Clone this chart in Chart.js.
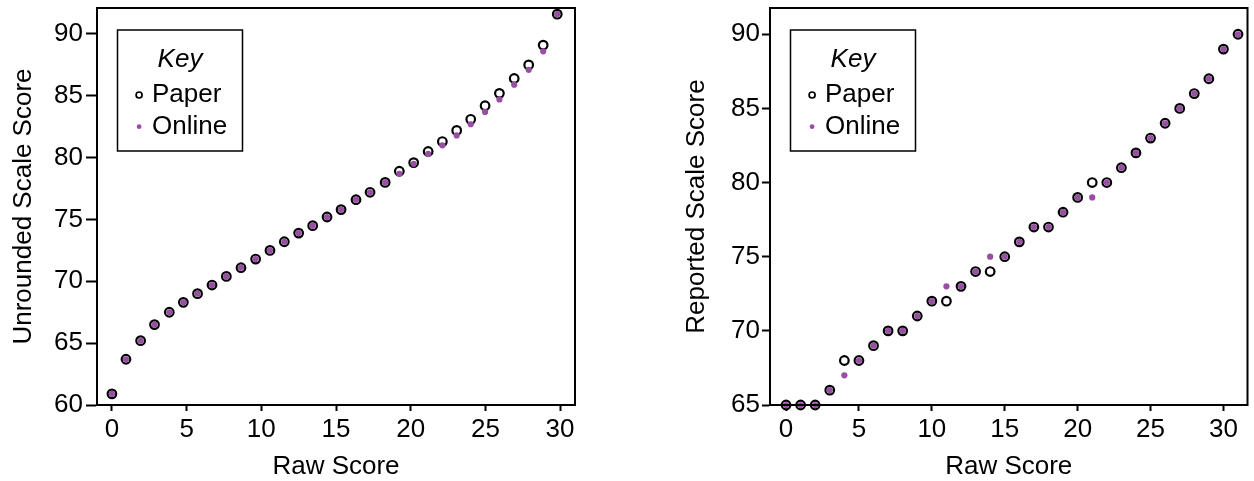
<!DOCTYPE html>
<html>
<head>
<meta charset="utf-8">
<script src="https://cdn.jsdelivr.net/npm/chart.js@4.4.1/dist/chart.umd.min.js"></script>
<style>
  html, body { margin: 0; padding: 0; background: #fff; }
  #wrap { display: flex; width: 1254px; height: 481px; }
  canvas { display: block; }
</style>
</head>
<body>
<div id="wrap">
  <canvas id="unroundedChart" width="627" height="481"></canvas>
  <canvas id="reportedChart" width="627" height="481"></canvas>
</div>
<script>
// Raw scores 0..31 (right panel), left panel points sit slightly left of the integer ticks
const rawScores = [0, 1, 2, 3, 4, 5, 6, 7, 8, 9, 10, 11, 12, 13, 14, 15,
  16, 17, 18, 19, 20, 21, 22, 23, 24, 25, 26, 27, 28, 29, 30, 31];
const unroundedX = [0, 0.94, 1.92, 2.85, 3.84, 4.78, 5.73, 6.7, 7.66, 8.64, 9.62, 10.58,
  11.54, 12.5, 13.44, 14.4, 15.34, 16.34, 17.28, 18.29, 19.24, 20.2, 21.17, 22.12,
  23.08, 24.02, 24.98, 25.94, 26.93, 27.9, 28.87, 29.81];

const unroundedPaper = [60.9, 63.7, 65.2, 66.5, 67.5, 68.3, 69.0, 69.7, 70.4, 71.1, 71.8, 72.5,
  73.2, 73.9, 74.5, 75.2, 75.8, 76.6, 77.2, 78.0, 78.9, 79.6, 80.5, 81.3,
  82.2, 83.1, 84.2, 85.2, 86.4, 87.5, 89.1, 91.6];
const unroundedOnline = [60.9, 63.7, 65.2, 66.5, 67.5, 68.3, 69.0, 69.7, 70.4, 71.1, 71.8, 72.5,
  73.2, 73.9, 74.5, 75.2, 75.8, 76.6, 77.2, 78.0, 78.7, 79.5, 80.3, 81.0,
  81.8, 82.7, 83.7, 84.7, 85.9, 87.1, 88.6, 91.6];

const reportedPaper = [65, 65, 65, 66, 68, 68, 69, 70, 70, 71, 72, 72, 73, 74, 74, 75,
  76, 77, 77, 78, 79, 80, 80, 81, 82, 83, 84, 85, 86, 87, 89, 90];
const reportedOnline = [65, 65, 65, 66, 67, 68, 69, 70, 70, 71, 72, 73, 73, 74, 75, 75,
  76, 77, 77, 78, 79, 79, 80, 81, 82, 83, 84, 85, 86, 87, 89, 90];

const seriesNames = ['Paper', 'Online'];
const xTicks = [0, 5, 10, 15, 20, 25, 30];
const unroundedTicks = [60, 65, 70, 75, 80, 85, 90];
const reportedTicks = [65, 70, 75, 80, 85, 90];

const PURPLE = '#984EA3';
const FONT = '"Liberation Sans", Arial, Helvetica, sans-serif';
const FSIZE = 26;
Chart.defaults.font.family = FONT;
Chart.defaults.color = '#000';

function toPoints(xs, ys) {
  return xs.map((x, i) => ({ x: x, y: ys[i] }));
}

// box round the plot area (axes borders only give left + bottom)
const frame = {
  id: 'frame',
  afterDatasetsDraw(chart) {
    const { ctx, chartArea: a } = chart;
    ctx.save();
    ctx.strokeStyle = '#000';
    ctx.lineWidth = 2;
    ctx.strokeRect(a.left, a.top, a.right - a.left, a.bottom - a.top);
    ctx.restore();
  }
};

// the "Key" box in the upper left corner
const keyBox = {
  id: 'keyBox',
  afterDraw(chart) {
    const { ctx, chartArea } = chart;
    const x = chartArea.left + 20.5, y = 30, w = 125, h = 121;
    const sets = chart.data.datasets;
    ctx.save();
    ctx.fillStyle = '#fff';
    ctx.fillRect(x, y, w, h);
    ctx.strokeStyle = '#000';
    ctx.lineWidth = 1.5;
    ctx.strokeRect(x, y, w, h);

    ctx.fillStyle = '#000';
    ctx.textBaseline = 'alphabetic';
    ctx.textAlign = 'center';
    ctx.font = 'italic ' + FSIZE + 'px ' + FONT;
    ctx.fillText('Key', x + w / 2, 66.5);

    ctx.textAlign = 'left';
    ctx.font = FSIZE + 'px ' + FONT;
    const rows = [{ cy: 95, base: 102 }, { cy: 126.7, base: 134 }];
    sets.forEach((ds, i) => {
      const r = rows[i];
      ctx.beginPath();
      if (ds.pointBorderWidth > 0) {
        ctx.arc(x + 21.6, r.cy, 3, 0, Math.PI * 2);
        ctx.fillStyle = ds.pointBackgroundColor;
        ctx.fill();
        ctx.lineWidth = 1.7;
        ctx.strokeStyle = ds.pointBorderColor;
        ctx.stroke();
      } else {
        ctx.arc(x + 21.6, r.cy, 2.4, 0, Math.PI * 2);
        ctx.fillStyle = ds.pointBackgroundColor;
        ctx.fill();
      }
      ctx.fillStyle = '#000';
      ctx.fillText(ds.label, x + 34.5, r.base);
    });
    ctx.restore();
  }
};

function makeChart(id, xs, paper, online, yTicks, opts) {
  const ctx = document.getElementById(id).getContext('2d');
  return new Chart(ctx, {
    type: 'scatter',
    data: {
      datasets: [
        {
          label: seriesNames[0],
          data: toPoints(xs, paper),
          pointRadius: 4.3,
          pointBorderWidth: 2.2,
          pointBorderColor: '#000',
          pointBackgroundColor: '#fff',
          order: 2,
          clip: false
        },
        {
          label: seriesNames[1],
          data: toPoints(xs, online),
          pointRadius: 3.1,
          pointBorderWidth: 0,
          pointBorderColor: PURPLE,
          pointBackgroundColor: PURPLE,
          order: 1,
          clip: false
        }
      ]
    },
    options: {
      responsive: false,
      animation: false,
      events: [],
      layout: { padding: opts.padding },
      plugins: {
        legend: { display: false },
        tooltip: { enabled: false }
      },
      scales: {
        x: {
          type: 'linear',
          min: opts.xMin,
          max: opts.xMax,
          afterBuildTicks: s => { s.ticks = xTicks.map(v => ({ value: v })); },
          afterFit: s => { s.height = 76; s.paddingLeft = 0; s.paddingRight = 0; },
          grid: {
            drawOnChartArea: false,
            drawTicks: true,
            tickLength: 6,
            tickWidth: 2,
            tickColor: '#000',
            color: '#000'
          },
          border: { display: true, color: '#000', width: 2 },
          ticks: { color: '#000', font: { size: FSIZE }, padding: 3, maxRotation: 0, autoSkip: false },
          title: { display: true, text: 'Raw Score', color: '#000', font: { size: FSIZE }, padding: { top: 0, bottom: -1.5 } }
        },
        y: {
          type: 'linear',
          min: opts.yMin,
          max: opts.yMax,
          afterBuildTicks: s => { s.ticks = yTicks.map(v => ({ value: v })); },
          afterFit: s => { s.width = 97; s.paddingTop = 0; s.paddingBottom = 0; },
          grid: {
            drawOnChartArea: false,
            drawTicks: true,
            tickLength: opts.yTickLen,
            tickWidth: 2,
            tickColor: '#000',
            color: '#000'
          },
          border: { display: true, color: '#000', width: 2 },
          ticks: { color: '#000', font: { size: FSIZE }, padding: opts.yTickPad, autoSkip: false },
          title: { display: true, text: opts.yTitle, color: '#000', font: { size: FSIZE }, padding: { top: 8.4, bottom: 0 } }
        }
      }
    },
    plugins: [frame, keyBox]
  });
}

makeChart('unroundedChart', unroundedX, unroundedPaper, unroundedOnline, unroundedTicks, {
  xMin: -1, xMax: 31, yMin: 60, yMax: 92.1,
  yTitle: 'Unrounded Scale Score', yTickLen: 11, yTickPad: 3,
  padding: { top: 8, right: 52, left: 0, bottom: 0 }
});

makeChart('reportedChart', rawScores, reportedPaper, reportedOnline, reportedTicks, {
  xMin: -1.1, xMax: 31.65, yMin: 65, yMax: 91.77,
  yTitle: 'Reported Scale Score', yTickLen: 8, yTickPad: 2,
  padding: { top: 8, right: 1, left: 46, bottom: 0 }
});
</script>
</body>
</html>
